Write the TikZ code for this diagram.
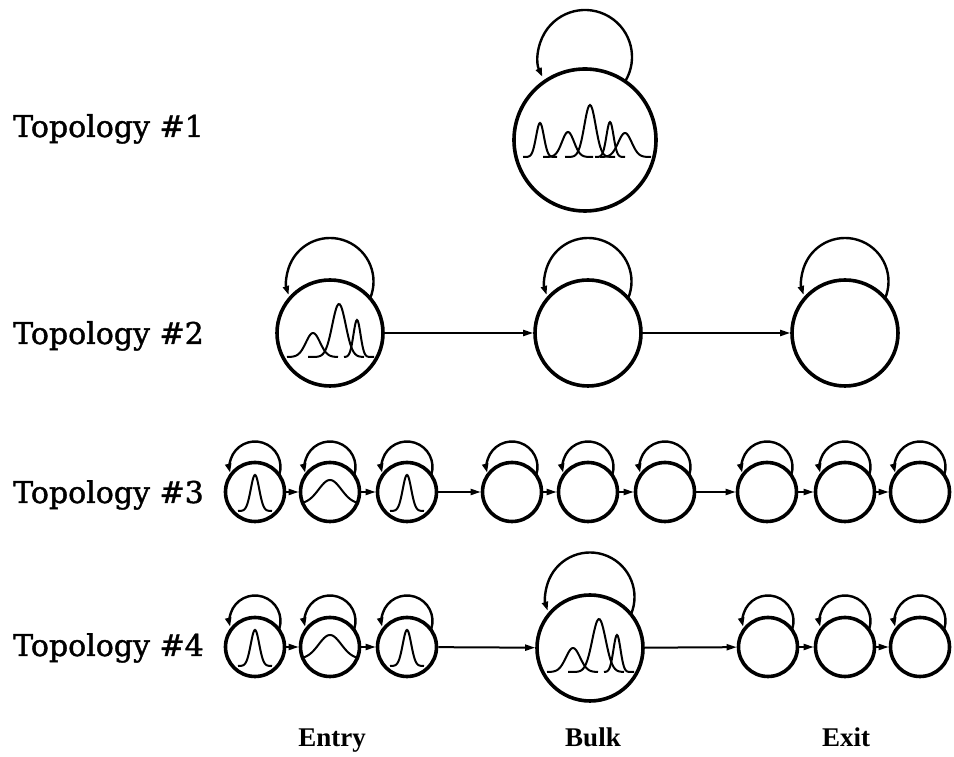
\documentclass[tikz,border=0pt]{standalone}
\usepackage{fontspec}
\setmainfont{DejaVu Serif}
\newfontfamily\rowfont{DejaVu Serif}[FakeBold=1.3]
\newfontfamily\groupfont{Liberation Serif}
\usetikzlibrary{arrows.meta,calc}

% self-loop above a state: #1 node, #2 centre offset, #3 radius, #4/#5 start/end angle
\newcommand\selfloop[5]{%
  \draw[loopline] ($(#1.center)+(0pt,#2)+(#4:#3)$) arc[start angle=#4,end angle=#5,radius=#3];}
% output density drawn inside a state: #1 node, #2 baseline offset, #3 mean, #4 height, #5 spread, #6/#7 range
\newcommand\gausscurve[7]{%
  \begin{scope}[shift={(#1.center)}]
    \draw[curve] plot[domain=#6:#7,samples=45,smooth]
      (\x,{#2+#4*exp(0-((\x-(#3))/(#5))*((\x-(#3))/(#5)))});
  \end{scope}}
\newcommand\narrowpdf[1]{\gausscurve{#1}{-19}{0}{36}{6}{-17}{17}}
\newcommand\widepdf[1]{\gausscurve{#1}{-12}{0}{24}{16}{-26}{26}}
\newcommand\mixpdf[1]{%
  \gausscurve{#1}{-24}{-17}{24}{10}{-43}{8}%
  \gausscurve{#1}{-24}{9}{53}{9.5}{-22}{34}%
  \gausscurve{#1}{-24}{27}{37}{5}{14}{44}}

\begin{document}
\begin{tikzpicture}[x=1pt,y=1pt,
  state/.style={circle,draw,line width=3.6pt,inner sep=0pt},
  hugestate/.style={state,minimum size=142pt},
  bigstate/.style={state,minimum size=106pt},
  smallstate/.style={state,minimum size=59pt},
  loopline/.style={line width=2.4pt,-{Triangle[length=9pt,width=6pt]}},
  link/.style={line width=2pt,-{Triangle[length=10pt,width=6pt]}},
  curve/.style={line width=2pt},
  toplabel/.style={anchor=base west,inner sep=0pt,font=\rowfont\fontsize{30}{36}\selectfont},
  grouplabel/.style={anchor=base,inner sep=0pt,font=\groupfont\bfseries\fontsize{27}{32}\selectfont}]
\useasboundingbox (0,0) rectangle (954,757);

% ---- Topology #1: a single state
\node[toplabel] (l1) at (13,620) {Topology \#1};
\node[hugestate] (t1) at (585,617) {};
\selfloop{t1}{83pt}{47pt}{-31}{205}
\gausscurve{t1}{-17}{-45}{34}{5.5}{-62}{-28}
\gausscurve{t1}{-17}{-17}{25}{8.5}{-42}{8}
\gausscurve{t1}{-17}{5}{52}{8}{-20}{30}
\gausscurve{t1}{-17}{25}{35}{5}{10}{40}
\gausscurve{t1}{-17}{40}{24}{9.5}{15}{66}

% ---- Topology #2: three states in a row
\node[toplabel] (l2) at (13,413) {Topology \#2};
\node[bigstate] (t2a) at (330,424) {};
\node[bigstate] (t2b) at (588,424) {};
\node[bigstate] (t2c) at (845,424) {};
\foreach \n in {t2a,t2b,t2c} {\selfloop{\n}{51.5pt}{43.5pt}{-23}{198}}
\mixpdf{t2a}
\draw[link] (t2a) -- (t2b);
\draw[link] (t2b) -- (t2c);

% ---- Topology #3: three groups of three states
\node[toplabel] (l3) at (13,254) {Topology \#3};
\foreach \n/\px in {a/255,b/330,c/407,d/512,e/588,f/665,g/767,h/845,i/920}
  {\node[smallstate] (t3\n) at (\px,265) {};
   \selfloop{t3\n}{25pt}{25.5pt}{-18}{193}}
\narrowpdf{t3a}
\widepdf{t3b}
\narrowpdf{t3c}
\foreach \p/\q in {a/b,b/c,c/d,d/e,e/f,f/g,g/h,h/i}
  {\draw[link] (t3\p) -- (t3\q);}

% ---- Topology #4: entry and exit groups around one bulk state
\node[toplabel] (l4) at (13,101) {Topology \#4};
\foreach \n/\px in {a/255,b/330,c/407,g/768,h/845,i/920}
  {\node[smallstate] (t4\n) at (\px,110) {};
   \selfloop{t4\n}{26pt}{25.5pt}{-18}{193}}
\node[bigstate] (t4m) at (590,109) {};
\selfloop{t4m}{51pt}{44.5pt}{-23}{198}
\narrowpdf{t4a}
\widepdf{t4b}
\narrowpdf{t4c}
\mixpdf{t4m}
\foreach \p/\q in {a/b,b/c,c/m,m/g,g/h,h/i}
  {\draw[link] (t4\p) -- (t4\q);}

% ---- group names
\node[grouplabel] (entry) at (332,10) {Entry};
\node[grouplabel] (bulk) at (593,10) {Bulk};
\node[grouplabel] (exit) at (846,10) {Exit};
\end{tikzpicture}
\end{document}
